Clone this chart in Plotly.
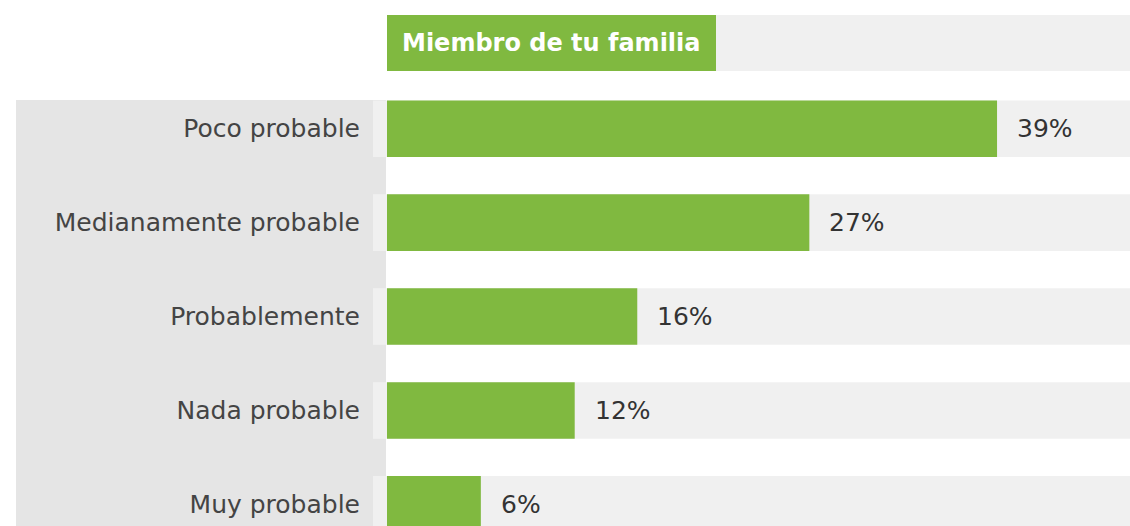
import plotly.graph_objects as go

# Data
categories = ["Poco probable", "Medianamente probable", "Probablemente", "Nada probable", "Muy probable"]
values = [39, 27, 16, 12, 6]
header_title = "Miembro de tu familia"

W, H = 1130, 526
L = 387  # left margin (plot area start)
PW = W - L

def px_x(p):
    return (p - L) / PW

def px_y(p):
    return 1 - p / H

GREEN = "#80b940"
PANEL = "#e5e5e5"
ROWBG = "#f0f0f0"

idx = list(range(len(categories)))
half = 0.301

fig = go.Figure()
fig.add_trace(go.Bar(
    x=values, y=idx, orientation="h",
    marker=dict(color=GREEN, line=dict(width=0)),
    width=0.602, hoverinfo="skip",
))

shapes = []
# left label panel
shapes.append(dict(type="rect", xref="paper", yref="paper",
                   x0=px_x(16), x1=px_x(386), y0=0, y1=px_y(100),
                   fillcolor=PANEL, line=dict(width=0), layer="below"))
# row backgrounds
for i in idx:
    shapes.append(dict(type="rect", xref="paper", yref="y",
                       x0=px_x(373), x1=1, y0=i - half, y1=i + half,
                       fillcolor=ROWBG, line=dict(width=0), layer="below"))
# header background
shapes.append(dict(type="rect", xref="paper", yref="paper",
                   x0=px_x(716), x1=1, y0=px_y(71), y1=px_y(15),
                   fillcolor=ROWBG, line=dict(width=0), layer="below"))
# header green box
shapes.append(dict(type="rect", xref="paper", yref="paper",
                   x0=0, x1=px_x(716), y0=px_y(71), y1=px_y(15),
                   fillcolor=GREEN, line=dict(width=0), layer="below"))

annotations = []
for i, v in zip(idx, values):
    annotations.append(dict(x=v, y=i, xref="x", yref="y", text=f"{v}%",
                            showarrow=False, xanchor="left", yanchor="middle",
                            xshift=18,
                            font=dict(family="DejaVu Sans", size=25, color="#333333")))
annotations.append(dict(x=px_x(400), y=px_y(43), xref="paper", yref="paper",
                        text=f"<b>{header_title}</b>", showarrow=False,
                        xanchor="left", yanchor="middle",
                        font=dict(family="DejaVu Sans", size=24, color="white")))

fig.update_layout(
    width=W, height=H,
    margin=dict(l=L, r=0, t=0, b=0),
    paper_bgcolor="white", plot_bgcolor="rgba(0,0,0,0)",
    showlegend=False,
    shapes=shapes, annotations=annotations,
    xaxis=dict(visible=False, range=[0, 47.5], fixedrange=True),
    yaxis=dict(range=[4.231, -1.371], tickvals=idx, ticktext=categories,
               showgrid=False, zeroline=False, showline=False, ticks="",
               ticklabelstandoff=26,
               tickfont=dict(family="DejaVu Sans", size=25, color="#444444"),
               fixedrange=True),
)

fig.write_html("out.html", config={"displayModeBar": False},
               post_script="document.body.style.margin='0';document.body.style.overflow='hidden';")
